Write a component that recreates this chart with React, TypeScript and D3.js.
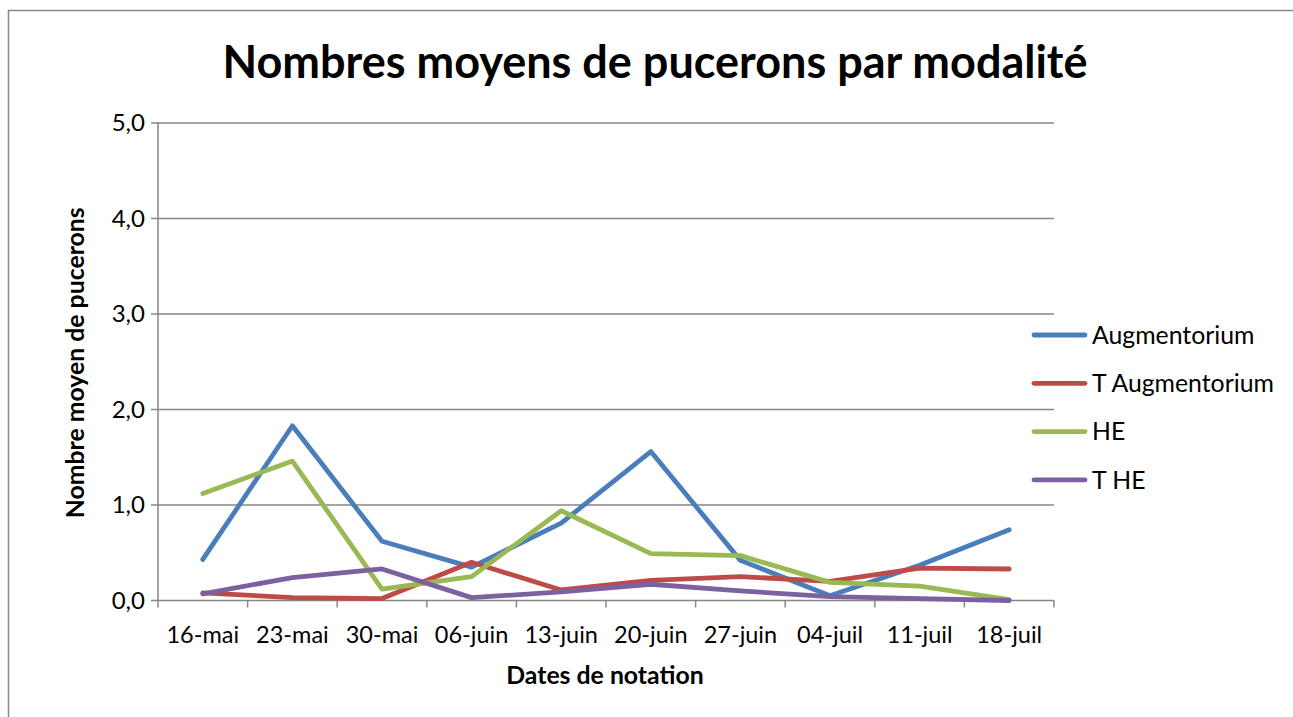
import React from "react";
import * as d3 from "d3";

const categories = ["16-mai", "23-mai", "30-mai", "06-juin", "13-juin", "20-juin", "27-juin", "04-juil", "11-juil", "18-juil"];
const augmentorium = [0.43, 1.83, 0.62, 0.35, 0.81, 1.56, 0.42, 0.05, 0.37, 0.74];
const tAugmentorium = [0.08, 0.03, 0.02, 0.4, 0.11, 0.21, 0.25, 0.2, 0.34, 0.33];
const he = [1.12, 1.46, 0.12, 0.25, 0.94, 0.49, 0.47, 0.19, 0.15, 0.01];
const tHe = [0.07, 0.24, 0.33, 0.03, 0.09, 0.17, 0.1, 0.04, 0.02, 0.0];
const yTicks = [0, 1, 2, 3, 4, 5];

const seriesNames = ["Augmentorium", "T Augmentorium", "HE", "T HE"];
const seriesColors = ["#4a7ebb", "#be4b48", "#98b954", "#7d60a0"];

const FONT = "Lato, 'Open Sans', sans-serif";

export default function App() {
  const W = 1293, H = 717;
  const x0 = 158, x1 = 1054, yTop = 123, yBot = 600.5;
  const x = d3.scaleBand<string>().domain(categories).range([x0, x1]);
  const y = d3.scaleLinear().domain([0, 5]).range([yBot, yTop]);
  const series = [augmentorium, tAugmentorium, he, tHe];
  const line = d3
    .line<number>()
    .x((_, i) => (x(categories[i]) as number) + x.bandwidth() / 2)
    .y((d) => y(d));
  const grid = "#868686";
  const fmt = (v: number) => v.toFixed(1).replace(".", ",");

  return (
    <svg width={W} height={H} style={{ position: "absolute", left: 0, top: 0 }}>
      <rect x={0} y={0} width={W} height={H} fill="#fff" />
      <rect x={8.5} y={10.5} width={1400} height={800} fill="none" stroke="#888" strokeWidth={1.5} />
      <text x={655} y={78} textAnchor="middle" fontFamily={FONT} fontWeight="bold" fontSize={45} fill="#000">
        Nombres moyens de pucerons par modalité
      </text>
      {yTicks.map((t) => (
        <g key={t}>
          {t > 0 && <line x1={x0} x2={x1} y1={y(t)} y2={y(t)} stroke={grid} strokeWidth={1.5} />}
          <line x1={x0 - 7} x2={x0} y1={y(t)} y2={y(t)} stroke={grid} strokeWidth={1.5} />
          <text x={145} y={y(t)} dy="0.35em" textAnchor="end" fontFamily={FONT} fontSize={24} fill="#000">
            {fmt(t)}
          </text>
        </g>
      ))}
      <line x1={x0} x2={x0} y1={yTop} y2={yBot} stroke={grid} strokeWidth={1.5} />
      <line x1={x0} x2={x1} y1={yBot} y2={yBot} stroke={grid} strokeWidth={1.5} />
      {categories.map((c, i) => (
        <g key={c}>
          <line
            x1={(x(c) as number) + x.bandwidth()}
            x2={(x(c) as number) + x.bandwidth()}
            y1={yBot}
            y2={yBot + 7}
            stroke={grid}
            strokeWidth={1.5}
          />
          {i === 0 && <line x1={x0} x2={x0} y1={yBot} y2={yBot + 7} stroke={grid} strokeWidth={1.5} />}
          <text
            x={(x(c) as number) + x.bandwidth() / 2}
            y={643}
            textAnchor="middle"
            fontFamily={FONT}
            fontSize={23.5}
            fill="#000"
          >
            {c}
          </text>
        </g>
      ))}
      <text x={605} y={684} textAnchor="middle" fontFamily={FONT} fontWeight="bold" fontSize={24.8} fill="#000">
        Dates de notation
      </text>
      <text
        transform={`translate(84, ${(yTop + yBot) / 2 + 1}) rotate(-90)`}
        textAnchor="middle"
        fontFamily={FONT}
        fontWeight="bold"
        fontSize={24.8}
        fill="#000"
      >
        Nombre moyen de pucerons
      </text>
      {series.map((s, i) => (
        <path
          key={i}
          d={line(s) as string}
          fill="none"
          stroke={seriesColors[i]}
          strokeWidth={4.8}
          strokeLinejoin="round"
          strokeLinecap="round"
        />
      ))}
      {seriesNames.map((n, i) => {
        const ly = 335 + i * 48.3;
        return (
          <g key={n}>
            <line x1={1034} x2={1085} y1={ly} y2={ly} stroke={seriesColors[i]} strokeWidth={4.8} strokeLinecap="round" />
            <text x={1092} y={ly} dy="0.35em" fontFamily={FONT} fontSize={24.8} fill="#000">
              {n}
            </text>
          </g>
        );
      })}
    </svg>
  );
}
